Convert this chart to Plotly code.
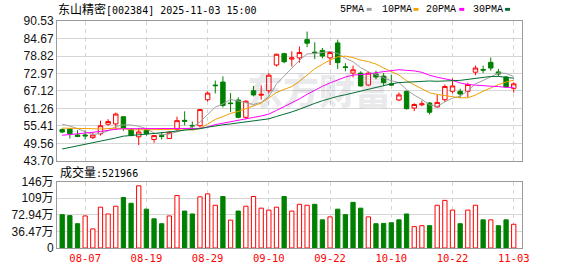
import plotly.graph_objects as go

# ---------------- data ----------------
dates = ["08-04", "08-05", "08-06", "08-07", "08-08", "08-11", "08-12", "08-13", "08-14", "08-15",
         "08-18", "08-19", "08-20", "08-21", "08-22", "08-25", "08-26", "08-27", "08-28", "08-29",
         "09-01", "09-02", "09-03", "09-04", "09-05", "09-08", "09-09", "09-10", "09-11", "09-12",
         "09-15", "09-16", "09-17", "09-18", "09-19", "09-22", "09-23", "09-24", "09-25", "09-26",
         "09-29", "09-30", "10-09", "10-10", "10-13", "10-14", "10-15", "10-16", "10-17", "10-20",
         "10-21", "10-22", "10-23", "10-24", "10-27", "10-28", "10-29", "10-30", "10-31", "11-03"]

opens = [54.2, 54.4, 52.4, 52.4, 51.5, 52.8, 56.0, 56.1, 58.5, 54.2,
         51.8, 54.1, 50.9, 52.2, 51.2, 54.2, 57.3, 55.6, 55.5, 64.2,
         69.1, 70.1, 63.1, 64.1, 58.3, 67.2, 65.7, 67.2, 75.8, 79.6,
         77.8, 78.2, 84.3, 80.1, 80.7, 78.2, 83.2, 75.2, 73.1, 73.1,
         69.1, 72.8, 72.1, 69.5, 64.1, 67.0, 61.4, 62.5, 63.1, 61.8,
         64.2, 67.0, 67.0, 67.0, 73.4, 74.3, 76.7, 73.5, 71.8, 68.0]
highs = [54.6, 54.7, 54.0, 54.0, 53.3, 57.2, 57.7, 59.9, 58.6, 54.7,
         54.8, 54.4, 52.4, 53.4, 53.6, 58.5, 60.3, 56.9, 61.0, 67.0,
         70.6, 72.0, 66.4, 65.0, 64.0, 68.8, 69.0, 73.1, 79.6, 79.9,
         80.4, 82.0, 87.0, 83.4, 81.5, 80.4, 84.3, 76.4, 75.6, 73.7,
         73.6, 73.9, 73.1, 72.6, 66.6, 67.2, 63.0, 63.9, 63.4, 65.8,
         69.3, 71.3, 67.9, 69.9, 75.6, 75.6, 78.3, 74.5, 72.1, 70.0]
lows = [53.0, 51.2, 51.7, 50.9, 51.1, 52.2, 55.5, 54.2, 53.8, 52.0,
        49.0, 52.2, 49.8, 50.9, 51.1, 53.8, 55.6, 54.4, 54.9, 63.6,
        66.3, 61.6, 60.1, 58.0, 57.7, 65.3, 64.2, 66.3, 75.3, 76.4,
        75.3, 76.6, 81.8, 77.8, 78.0, 75.8, 74.5, 73.7, 71.7, 68.6,
        68.8, 71.0, 68.8, 68.8, 63.7, 60.9, 60.4, 62.0, 59.3, 61.5,
        63.4, 66.3, 64.8, 65.0, 72.4, 73.1, 73.9, 72.0, 68.3, 66.6]
closes = [53.4, 52.8, 51.9, 52.1, 52.4, 55.5, 56.9, 59.4, 54.7, 52.2,
          53.4, 52.8, 52.2, 51.9, 53.3, 57.2, 57.0, 55.4, 60.9, 66.4,
          68.9, 62.3, 62.9, 58.3, 63.7, 65.8, 66.0, 72.4, 79.4, 76.9,
          78.2, 80.0, 83.1, 79.9, 78.8, 80.0, 76.6, 75.0, 74.2, 68.8,
          73.1, 71.8, 69.9, 69.1, 65.8, 61.2, 62.6, 62.8, 60.0, 63.3,
          68.6, 68.8, 66.1, 69.3, 74.8, 74.1, 74.8, 72.8, 68.5, 69.5]
prev_close = 54.3

# volume in 万 (10k)
volumes = [73.3, 71.2, 53.4, 70.5, 42.0, 89.7, 74.8, 91.8, 111.0, 98.3,
           136.7, 85.4, 64.1, 53.4, 70.5, 115.3, 81.2, 74.8, 112.5, 119.0,
           94.0, 113.2, 61.3, 81.2, 91.8, 113.2, 87.6, 83.3, 89.7, 113.2,
           81.2, 96.1, 94.0, 96.1, 61.9, 68.4, 85.4, 73.3, 100.4, 87.6,
           68.4, 53.4, 54.1, 55.5, 61.9, 74.8, 47.0, 49.1, 49.1, 94.0,
           104.7, 83.3, 53.4, 83.3, 94.0, 61.9, 61.9, 49.1, 61.9, 52.2]

ma5 = [56.0, 55.4, 54.5, 53.4, 52.52, 52.94, 53.76, 55.26, 55.78, 55.74,
       55.32, 54.5, 53.06, 52.5, 52.72, 53.48, 54.32, 54.96, 56.76, 59.38,
       61.72, 62.78, 64.28, 63.76, 63.22, 62.6, 63.34, 65.24, 69.46, 72.1,
       74.58, 77.38, 79.52, 79.62, 80.0, 80.36, 79.68, 78.06, 76.92, 74.92,
       73.54, 72.58, 71.56, 70.54, 69.94, 67.56, 65.72, 64.3, 62.48, 61.98,
       63.46, 64.7, 65.36, 67.22, 69.52, 70.62, 71.82, 73.16, 73.0, 71.94]
ma10 = [54.7, 54.7, 54.6, 54.6, 54.5, 54.4, 54.5, 54.7, 54.5, 54.13,
        54.13, 54.13, 54.16, 54.14, 54.23, 54.4, 54.41, 54.01, 54.63, 56.05,
        57.6, 58.55, 59.62, 60.26, 61.3, 62.16, 63.06, 64.76, 66.61, 67.66,
        68.59, 70.36, 72.38, 74.54, 76.05, 77.47, 78.53, 78.79, 78.27, 77.46,
        76.95, 76.13, 74.81, 73.73, 72.43, 70.55, 69.15, 67.93, 66.51, 65.96,
        65.51, 65.21, 64.83, 64.85, 65.75, 67.04, 68.26, 69.26, 70.11, 70.73]
ma20 = [52.3, 52.5, 52.8, 53.1, 53.3, 53.6, 54.0, 54.3, 54.5, 54.5,
        54.5, 54.4, 54.4, 54.4, 54.4, 54.4, 54.4, 54.4, 54.6, 55.09,
        55.87, 56.34, 56.89, 57.2, 57.77, 58.28, 58.74, 59.39, 60.62, 61.86,
        63.1, 64.46, 66.0, 67.4, 68.68, 69.82, 70.8, 71.78, 72.44, 72.56,
        72.77, 73.25, 73.6, 74.14, 74.24, 74.01, 73.84, 73.36, 72.39, 71.71,
        71.23, 70.67, 69.82, 69.29, 69.09, 68.8, 68.71, 68.6, 68.31, 68.35]
ma30 = [47.7, 48.2, 48.7, 49.2, 49.7, 50.2, 50.8, 51.4, 52.0, 52.3,
        52.5, 52.7, 52.9, 53.1, 53.4, 53.7, 54.0, 54.2, 54.5, 55.0,
        55.5, 55.8, 56.1, 56.4, 56.7, 57.0, 57.3, 57.8, 58.6, 59.28,
        60.11, 61.01, 62.05, 62.98, 63.86, 64.68, 65.33, 65.85, 66.5, 67.06,
        67.71, 68.35, 68.94, 69.51, 69.93, 70.06, 70.25, 70.49, 70.46, 70.36,
        70.35, 70.57, 70.67, 71.04, 71.41, 71.69, 71.98, 71.99, 71.63, 71.38]

price_ticks = [43.70, 49.56, 55.41, 61.26, 67.12, 72.97, 78.82, 84.67, 90.53]
price_tick_text = ["43.70", "49.56", "55.41", "61.26", "67.12", "72.97", "78.82", "84.67", "90.53"]
vol_ticks = [0, 36.47, 72.94, 109.41, 145.88]
vol_tick_text = ["0", "36.47万", "72.94万", "109万", "146万"]
date_ticks = ["08-07", "08-19", "08-29", "09-10", "09-22", "10-10", "10-22", "11-03"]

title_name = "东山精密"
title_rest = "[002384] 2025-11-03 15:00"
vol_label = "成交量"
vol_last = ":521966"
ma_names = ["5PMA", "10PMA", "20PMA", "30PMA"]

# ---------------- styling ----------------
RED = "#ff0000"
GREEN = "#008000"
MA_COLORS = ["#a0a0a0", "#f2a000", "#ff00ff", "#006e30"]
GRID = "#d6d6d6"
BORDER = "#9a9a9a"

W, H = 578, 276
L, R, T, B = 55, 56, 21, 21
PW, PH = W - L - R, H - T - B


def px(x):
    return (x - L) / PW


def py(y):
    return (H - B - y) / PH


fig = go.Figure()

fig.add_trace(go.Candlestick(
    x=dates, open=opens, high=highs, low=lows, close=closes,
    increasing=dict(line=dict(color=RED, width=1), fillcolor="#ffffff"),
    decreasing=dict(line=dict(color=GREEN, width=1), fillcolor=GREEN),
    whiskerwidth=0, xaxis="x", yaxis="y", showlegend=False, hoverinfo="skip",
))

for vals, col in zip([ma5, ma10, ma20, ma30], MA_COLORS):
    fig.add_trace(go.Scatter(x=dates, y=vals, mode="lines",
                             line=dict(color=col, width=1),
                             xaxis="x", yaxis="y", showlegend=False, hoverinfo="skip"))

prevs = [prev_close] + closes[:-1]
up = [c > p for c, p in zip(closes, prevs)]
fig.add_trace(go.Bar(
    x=dates, y=volumes, width=0.56,
    marker=dict(color=["#ffffff" if u else GREEN for u in up],
                line=dict(color=[RED if u else GREEN for u in up], width=1)),
    xaxis="x2", yaxis="y2", showlegend=False, hoverinfo="skip",
))

xrange = [-0.68, len(dates) - 1 + 1.08]
common_x = dict(type="category", range=xrange, showgrid=True, gridcolor=GRID,
                griddash="4px,4px", gridwidth=1, tickvals=date_ticks, ticktext=date_ticks,
                showline=True, mirror=True, linecolor=BORDER, linewidth=1,
                ticks="", zeroline=False, fixedrange=True)

vol_bottom, vol_top = 255.0, 186.6
price_bottom, price_top = 165.3, 21.0

fig.update_layout(
    width=W, height=H, margin=dict(l=L, r=R, t=T, b=B),
    paper_bgcolor="#ffffff", plot_bgcolor="#ffffff",
    boxgap=0.42, boxgroupgap=0,
    xaxis=dict(**common_x, domain=[0, 1], anchor="y", showticklabels=False,
               rangeslider=dict(visible=False)),
    xaxis2=dict(**common_x, domain=[0, 1], anchor="y2", matches=None,
                showticklabels=True,
                tickfont=dict(family="DejaVu Sans Mono, Noto Sans CJK SC", size=10.5, color=RED)),
    yaxis=dict(domain=[py(price_bottom), py(price_top)], range=[43.70, 90.53],
               tickvals=price_ticks, ticktext=price_tick_text,
               showgrid=True, gridcolor=GRID, gridwidth=1, zeroline=False,
               showline=True, mirror=True, linecolor=BORDER, linewidth=1, ticks="",
               tickfont=dict(family="Liberation Sans, Arial", size=12, color="#111111"),
               fixedrange=True),
    yaxis2=dict(domain=[0, py(vol_top)], range=[0, 145.88],
                tickvals=vol_ticks, ticktext=vol_tick_text,
                showgrid=True, gridcolor=GRID, gridwidth=1, zeroline=False,
                showline=True, mirror=True, linecolor=BORDER, linewidth=1, ticks="",
                tickfont=dict(family="Liberation Sans, Noto Sans CJK SC", size=12, color="#111111"),
                fixedrange=True),
)

ann = []
ann.append(dict(x=px(54), y=py(9.5), xref="paper", yref="paper", xanchor="left", yanchor="middle",
                showarrow=False,
                text='<span style="font-size:12px">' + title_name + '</span>' + title_rest,
                font=dict(family="DejaVu Sans Mono, Noto Sans CJK SC", size=10, color="#000000")))
ann.append(dict(x=px(56), y=py(177.5), xref="paper", yref="paper", xanchor="left", yanchor="middle",
                showarrow=False,
                text='<span style="font-size:12px">' + vol_label + '</span>' + vol_last,
                font=dict(family="DejaVu Sans Mono, Noto Sans CJK SC", size=10, color="#000000")))
ann.append(dict(x=px(318), y=py(91), xref="paper", yref="paper", xanchor="center", yanchor="middle",
                showarrow=False, text="东方财富",
                font=dict(family="Noto Sans CJK SC", size=36, color="rgba(90,90,110,0.12)", weight=900)))

legend_x = [337, 379, 424, 471]
square_x = [366, 413, 459, 505]
shapes = []
for name, lx, sx, col in zip(ma_names, legend_x, square_x, MA_COLORS):
    ann.append(dict(x=px(lx), y=py(9.5), xref="paper", yref="paper", xanchor="left", yanchor="middle",
                    showarrow=False, text=name,
                    font=dict(family="Liberation Mono, DejaVu Sans Mono", size=10, color="#000000")))
    shapes.append(dict(type="rect", xref="paper", yref="paper",
                       x0=px(sx), x1=px(sx + 5), y0=py(10.5), y1=py(7.5),
                       fillcolor=col, line=dict(width=0)))

fig.update_layout(annotations=ann, shapes=shapes)

fig.write_html("out.html")
